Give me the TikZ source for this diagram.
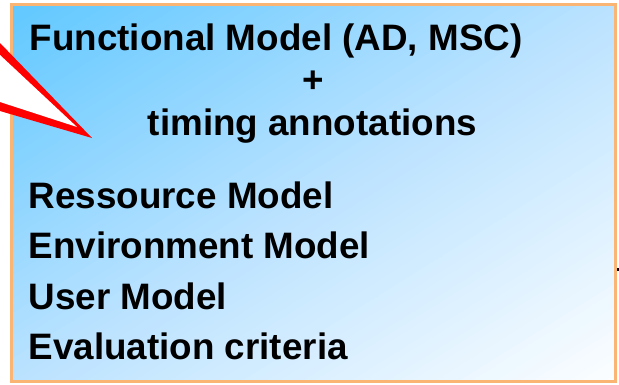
\documentclass[tikz,border=0pt]{standalone}
\usepackage{fontspec}
\setmainfont{Liberation Sans}
\definecolor{panelblue}{RGB}{96,200,255}
\definecolor{panelmid}{RGB}{186,226,255}
\definecolor{panelwhite}{RGB}{252,254,255}
\definecolor{panelframe}{RGB}{250,180,115}
\definecolor{calloutred}{RGB}{255,0,0}
\begin{document}
\begin{tikzpicture}[x=1pt,y=-1pt,
  frame/.style={line width=3pt,draw=panelframe},
  itemtext/.style={font=\fontsize{36.8}{40}\selectfont\bfseries,inner sep=0pt,text=black}]
  \useasboundingbox (0,0) rectangle (619,384);
  % diagonal gradient of the panel, built from thin bands parallel to the
  % anti-diagonal (blue at the top left, white at the bottom right)
  \begin{scope}
    \clip (11.5,4.5) rectangle (615,381.5);
    \begin{scope}[shift={(11.5,4.5)},x=603.5pt,y=-377pt]
      \foreach \i in {0,...,99}{
        \pgfmathsetmacro{\sa}{\i/50}
        \pgfmathsetmacro{\sb}{(\i+1.4)/50}
        \pgfmathsetmacro{\tt}{(\i+0.5)/100}
        \pgfmathsetmacro{\qa}{100-min(100,200*\tt)}
        \pgfmathsetmacro{\qb}{100-max(0,200*\tt-100)}
        \fill[panelblue!\qa!panelmid!\qb!panelwhite]
          (\sa+1,-1) -- (\sb+1,-1) -- (\sb-1,1) -- (\sa-1,1) -- cycle;
      }
    \end{scope}
  \end{scope}
  % orange frame of the panel
  \draw[frame] (11.5,4.5) rectangle (615,381.5);
  % pointer of a callout coming in from the left
  \fill[calloutred] (0,43) -- (92,138) -- (0,111) -- cycle;
  \fill[white] (0,55) -- (77,127) -- (0,102) -- cycle;
  % panel text
  \node[itemtext,anchor=base west] (func) at (29.5,50) {Functional Model (AD, MSC)};
  \node[itemtext,anchor=base] (plus) at (313,92) {+};
  \node[itemtext,anchor=base] (timing) at (312.5,135) {timing annotations};
  \node[itemtext,anchor=base west] (res) at (28.5,208) {Ressource Model};
  \node[itemtext,anchor=base west] (env) at (28.5,258) {Environment Model};
  \node[itemtext,anchor=base west] (user) at (28.5,309) {User Model};
  \node[itemtext,anchor=base west] (eval) at (28.5,359) {Evaluation criteria};
  % small mark at the right edge
  \fill[black] (617,268) rectangle (619,270.5);
\end{tikzpicture}
\end{document}
